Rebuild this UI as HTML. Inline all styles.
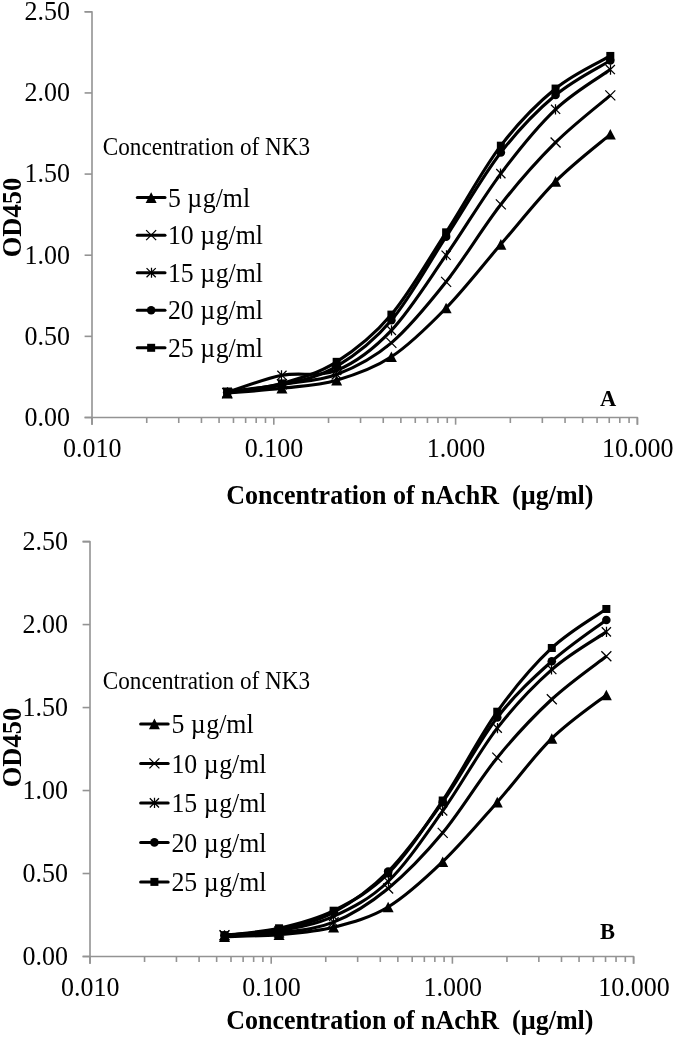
<!DOCTYPE html>
<html><head><meta charset="utf-8"><style>
html,body{margin:0;padding:0;background:#fff;}
body{width:675px;height:1037px;overflow:hidden;font-family:"Liberation Serif",serif;}
svg{display:block;filter:blur(0.4px);}
</style></head><body>
<svg width="675" height="1037" viewBox="0 0 675 1037">
<rect width="675" height="1037" fill="#fff"/>
<g stroke="#939393" stroke-width="1.6" fill="none" stroke-linecap="butt">
<path d="M84.60,11.80 L92.00,11.80 L92.00,424.70" stroke-linejoin="round"/>
<path d="M84.60,417.50 L637.40,417.50 L637.40,424.70" stroke-linejoin="round"/>
<path d="M84.60,417.50 L92.00,417.50"/>
<path d="M84.60,336.36 L92.00,336.36"/>
<path d="M84.60,255.22 L92.00,255.22"/>
<path d="M84.60,174.08 L92.00,174.08"/>
<path d="M84.60,92.94 L92.00,92.94"/>
<path d="M84.60,11.80 L92.00,11.80"/>
<path d="M92.00,417.50 L92.00,424.70"/>
<path d="M146.73,417.50 L146.73,423.00"/>
<path d="M178.74,417.50 L178.74,423.00"/>
<path d="M201.45,417.50 L201.45,423.00"/>
<path d="M219.07,417.50 L219.07,423.00"/>
<path d="M233.47,417.50 L233.47,423.00"/>
<path d="M245.64,417.50 L245.64,423.00"/>
<path d="M256.18,417.50 L256.18,423.00"/>
<path d="M265.48,417.50 L265.48,423.00"/>
<path d="M273.80,417.50 L273.80,424.70"/>
<path d="M328.53,417.50 L328.53,423.00"/>
<path d="M360.54,417.50 L360.54,423.00"/>
<path d="M383.25,417.50 L383.25,423.00"/>
<path d="M400.87,417.50 L400.87,423.00"/>
<path d="M415.27,417.50 L415.27,423.00"/>
<path d="M427.44,417.50 L427.44,423.00"/>
<path d="M437.98,417.50 L437.98,423.00"/>
<path d="M447.28,417.50 L447.28,423.00"/>
<path d="M455.60,417.50 L455.60,424.70"/>
<path d="M510.33,417.50 L510.33,423.00"/>
<path d="M542.34,417.50 L542.34,423.00"/>
<path d="M565.05,417.50 L565.05,423.00"/>
<path d="M582.67,417.50 L582.67,423.00"/>
<path d="M597.07,417.50 L597.07,423.00"/>
<path d="M609.24,417.50 L609.24,423.00"/>
<path d="M619.78,417.50 L619.78,423.00"/>
<path d="M629.08,417.50 L629.08,423.00"/>
<path d="M637.40,417.50 L637.40,424.70"/>
</g>
<g font-family="Liberation Serif" font-size="26" fill="#000" text-anchor="end">
<text transform="translate(70.10,425.80) scale(1,1.06)">0.00</text>
<text transform="translate(70.10,344.66) scale(1,1.06)">0.50</text>
<text transform="translate(70.10,263.52) scale(1,1.06)">1.00</text>
<text transform="translate(70.10,182.38) scale(1,1.06)">1.50</text>
<text transform="translate(70.10,101.24) scale(1,1.06)">2.00</text>
<text transform="translate(70.10,20.10) scale(1,1.06)">2.50</text>
</g>
<g font-family="Liberation Serif" font-size="26" fill="#000" text-anchor="middle">
<text transform="translate(92.30,456.50) scale(1,1.06)">0.010</text>
<text transform="translate(274.10,456.50) scale(1,1.06)">0.100</text>
<text transform="translate(455.90,456.50) scale(1,1.06)">1.000</text>
<text transform="translate(637.70,456.50) scale(1,1.06)">10.000</text>
</g>
<text transform="translate(226.20,503.80) scale(1,1.06)" font-family="Liberation Serif" font-weight="bold" font-size="26" xml:space="preserve">Concentration of nAchR  (µg/ml)</text>
<text transform="translate(21.20,217.50) rotate(-90) scale(1,1.06)" font-family="Liberation Serif" font-weight="bold" font-size="26.5" text-anchor="middle">OD450</text>
<text transform="translate(600.00,406.00) scale(1,1.06)" font-family="Liberation Serif" font-weight="bold" font-size="22.5">A</text>
<text transform="translate(102.80,155.00) scale(1,1.06)" font-family="Liberation Serif" font-size="23.2">Concentration of NK3</text>
<path d="M137.30,197.60 L165.00,197.60" stroke="#000" stroke-width="3.0" stroke-linecap="round" fill="none"/>
<path d="M151.15,192.30 L156.65,202.90 L145.65,202.90 Z" fill="#000"/>
<text transform="translate(167.90,206.80) scale(1,1.06)" font-family="Liberation Serif" font-size="25.8">5 µ<tspan dx="0.7">g/ml</tspan></text>
<path d="M137.30,235.15 L165.00,235.15" stroke="#000" stroke-width="3.0" stroke-linecap="round" fill="none"/>
<path d="M146.15,230.15 L156.15,240.15 M146.15,240.15 L156.15,230.15" stroke="#000" stroke-width="1.25" fill="none"/>
<text transform="translate(167.90,244.35) scale(1,1.06)" font-family="Liberation Serif" font-size="25.8">10 µ<tspan dx="0.7">g/ml</tspan></text>
<path d="M137.30,272.70 L165.00,272.70" stroke="#000" stroke-width="3.0" stroke-linecap="round" fill="none"/>
<path d="M146.55,268.10 L155.75,277.30 M146.55,277.30 L155.75,268.10 M151.50,267.64 L151.50,277.76" stroke="#000" stroke-width="1.25" fill="none"/>
<text transform="translate(167.90,281.90) scale(1,1.06)" font-family="Liberation Serif" font-size="25.8">15 µ<tspan dx="0.7">g/ml</tspan></text>
<path d="M137.30,310.25 L165.00,310.25" stroke="#000" stroke-width="3.0" stroke-linecap="round" fill="none"/>
<circle cx="151.15" cy="310.25" r="4.30" fill="#000"/>
<text transform="translate(167.90,319.45) scale(1,1.06)" font-family="Liberation Serif" font-size="25.8">20 µ<tspan dx="0.7">g/ml</tspan></text>
<path d="M137.30,347.80 L165.00,347.80" stroke="#000" stroke-width="3.0" stroke-linecap="round" fill="none"/>
<rect x="147.15" y="343.80" width="8.00" height="8.00" fill="#000"/>
<text transform="translate(167.90,357.00) scale(1,1.06)" font-family="Liberation Serif" font-size="25.8">25 µ<tspan dx="0.7">g/ml</tspan></text>
<path d="M227.20,393.16 C236.32,392.35 263.69,390.45 281.93,388.29 C300.17,386.13 318.42,385.42 336.66,380.18 C354.90,374.93 373.15,368.84 391.39,356.81 C409.63,344.77 427.88,326.70 446.12,307.96 C464.36,289.22 482.61,265.44 500.85,244.35 C519.09,223.25 537.34,199.72 555.58,181.38 C573.82,163.04 601.19,142.16 610.31,134.32" stroke="#000" stroke-width="3.1" fill="none" stroke-linejoin="round"/>
<path d="M227.20,393.16 C236.32,391.67 263.69,387.34 281.93,384.23 C300.17,381.12 318.42,381.39 336.66,374.50 C354.90,367.60 373.15,358.29 391.39,342.85 C409.63,327.41 427.88,304.90 446.12,281.83 C464.36,258.76 482.61,227.66 500.85,204.43 C519.09,181.19 537.34,160.61 555.58,142.44 C573.82,124.26 601.19,103.22 610.31,95.37" stroke="#000" stroke-width="3.1" fill="none" stroke-linejoin="round"/>
<path d="M227.20,392.35 C236.32,389.51 263.69,378.96 281.93,375.31 C300.17,371.66 318.42,377.93 336.66,370.44 C354.90,362.95 373.15,349.56 391.39,330.36 C409.63,311.15 427.88,281.35 446.12,255.22 C464.36,229.09 482.61,197.91 500.85,173.59 C519.09,149.28 537.34,126.67 555.58,109.33 C573.82,91.99 601.19,76.20 610.31,69.57" stroke="#000" stroke-width="3.1" fill="none" stroke-linejoin="round"/>
<path d="M227.20,392.35 C236.32,391.13 263.69,389.37 281.93,385.04 C300.17,380.72 318.42,377.17 336.66,366.38 C354.90,355.59 373.15,341.90 391.39,320.29 C409.63,298.68 427.88,264.69 446.12,236.72 C464.36,208.75 482.61,176.11 500.85,152.50 C519.09,128.89 537.34,110.39 555.58,95.05 C573.82,79.71 601.19,66.24 610.31,60.48" stroke="#000" stroke-width="3.1" fill="none" stroke-linejoin="round"/>
<path d="M227.20,391.54 C236.32,390.18 263.69,388.37 281.93,383.42 C300.17,378.47 318.42,373.31 336.66,361.84 C354.90,350.37 373.15,336.20 391.39,314.61 C409.63,293.03 427.88,260.49 446.12,232.34 C464.36,204.18 482.61,169.64 500.85,145.68 C519.09,121.72 537.34,103.52 555.58,88.56 C573.82,73.60 601.19,61.38 610.31,55.94" stroke="#000" stroke-width="3.1" fill="none" stroke-linejoin="round"/>
<path d="M227.20,387.86 L232.70,398.46 L221.70,398.46 Z" fill="#000"/>
<path d="M281.93,382.99 L287.43,393.59 L276.43,393.59 Z" fill="#000"/>
<path d="M336.66,374.88 L342.16,385.48 L331.16,385.48 Z" fill="#000"/>
<path d="M391.39,351.51 L396.89,362.11 L385.89,362.11 Z" fill="#000"/>
<path d="M446.12,302.66 L451.62,313.26 L440.62,313.26 Z" fill="#000"/>
<path d="M500.85,239.05 L506.35,249.65 L495.35,249.65 Z" fill="#000"/>
<path d="M555.58,176.08 L561.08,186.68 L550.08,186.68 Z" fill="#000"/>
<path d="M610.31,129.02 L615.81,139.62 L604.81,139.62 Z" fill="#000"/>
<path d="M222.20,388.16 L232.20,398.16 M222.20,398.16 L232.20,388.16" stroke="#000" stroke-width="1.25" fill="none"/>
<path d="M276.93,379.23 L286.93,389.23 M276.93,389.23 L286.93,379.23" stroke="#000" stroke-width="1.25" fill="none"/>
<path d="M331.66,369.50 L341.66,379.50 M331.66,379.50 L341.66,369.50" stroke="#000" stroke-width="1.25" fill="none"/>
<path d="M386.39,337.85 L396.39,347.85 M386.39,347.85 L396.39,337.85" stroke="#000" stroke-width="1.25" fill="none"/>
<path d="M441.12,276.83 L451.12,286.83 M441.12,286.83 L451.12,276.83" stroke="#000" stroke-width="1.25" fill="none"/>
<path d="M495.85,199.43 L505.85,209.43 M495.85,209.43 L505.85,199.43" stroke="#000" stroke-width="1.25" fill="none"/>
<path d="M550.58,137.44 L560.58,147.44 M550.58,147.44 L560.58,137.44" stroke="#000" stroke-width="1.25" fill="none"/>
<path d="M605.31,90.37 L615.31,100.37 M605.31,100.37 L615.31,90.37" stroke="#000" stroke-width="1.25" fill="none"/>
<path d="M222.60,387.75 L231.80,396.95 M222.60,396.95 L231.80,387.75 M227.50,387.29 L227.50,397.41" stroke="#000" stroke-width="1.25" fill="none"/>
<path d="M277.33,370.71 L286.53,379.91 M277.33,379.91 L286.53,370.71 M281.50,370.25 L281.50,380.37" stroke="#000" stroke-width="1.25" fill="none"/>
<path d="M332.06,365.84 L341.26,375.04 M332.06,375.04 L341.26,365.84 M336.50,365.38 L336.50,375.50" stroke="#000" stroke-width="1.25" fill="none"/>
<path d="M386.79,325.76 L395.99,334.96 M386.79,334.96 L395.99,325.76 M391.50,325.30 L391.50,335.42" stroke="#000" stroke-width="1.25" fill="none"/>
<path d="M441.52,250.62 L450.72,259.82 M441.52,259.82 L450.72,250.62 M446.50,250.16 L446.50,260.28" stroke="#000" stroke-width="1.25" fill="none"/>
<path d="M496.25,168.99 L505.45,178.19 M496.25,178.19 L505.45,168.99 M500.50,168.53 L500.50,178.65" stroke="#000" stroke-width="1.25" fill="none"/>
<path d="M550.98,104.73 L560.18,113.93 M550.98,113.93 L560.18,104.73 M555.50,104.27 L555.50,114.39" stroke="#000" stroke-width="1.25" fill="none"/>
<path d="M605.71,64.97 L614.91,74.17 M605.71,74.17 L614.91,64.97 M610.50,64.51 L610.50,74.63" stroke="#000" stroke-width="1.25" fill="none"/>
<circle cx="227.20" cy="392.35" r="4.30" fill="#000"/>
<circle cx="281.93" cy="385.04" r="4.30" fill="#000"/>
<circle cx="336.66" cy="366.38" r="4.30" fill="#000"/>
<circle cx="391.39" cy="320.29" r="4.30" fill="#000"/>
<circle cx="446.12" cy="236.72" r="4.30" fill="#000"/>
<circle cx="500.85" cy="152.50" r="4.30" fill="#000"/>
<circle cx="555.58" cy="95.05" r="4.30" fill="#000"/>
<circle cx="610.31" cy="60.48" r="4.30" fill="#000"/>
<rect x="223.20" y="387.54" width="8.00" height="8.00" fill="#000"/>
<rect x="277.93" y="379.42" width="8.00" height="8.00" fill="#000"/>
<rect x="332.66" y="357.84" width="8.00" height="8.00" fill="#000"/>
<rect x="387.39" y="310.61" width="8.00" height="8.00" fill="#000"/>
<rect x="442.12" y="228.34" width="8.00" height="8.00" fill="#000"/>
<rect x="496.85" y="141.68" width="8.00" height="8.00" fill="#000"/>
<rect x="551.58" y="84.56" width="8.00" height="8.00" fill="#000"/>
<rect x="606.31" y="51.94" width="8.00" height="8.00" fill="#000"/>
<g stroke="#939393" stroke-width="1.6" fill="none" stroke-linecap="butt">
<path d="M82.60,541.60 L90.00,541.60 L90.00,963.70" stroke-linejoin="round"/>
<path d="M82.60,956.50 L633.60,956.50 L633.60,963.70" stroke-linejoin="round"/>
<path d="M82.60,956.50 L90.00,956.50"/>
<path d="M82.60,873.52 L90.00,873.52"/>
<path d="M82.60,790.54 L90.00,790.54"/>
<path d="M82.60,707.56 L90.00,707.56"/>
<path d="M82.60,624.58 L90.00,624.58"/>
<path d="M82.60,541.60 L90.00,541.60"/>
<path d="M90.00,956.50 L90.00,963.70"/>
<path d="M144.55,956.50 L144.55,962.00"/>
<path d="M176.45,956.50 L176.45,962.00"/>
<path d="M199.09,956.50 L199.09,962.00"/>
<path d="M216.65,956.50 L216.65,962.00"/>
<path d="M231.00,956.50 L231.00,962.00"/>
<path d="M243.13,956.50 L243.13,962.00"/>
<path d="M253.64,956.50 L253.64,962.00"/>
<path d="M262.91,956.50 L262.91,962.00"/>
<path d="M271.20,956.50 L271.20,963.70"/>
<path d="M325.75,956.50 L325.75,962.00"/>
<path d="M357.65,956.50 L357.65,962.00"/>
<path d="M380.29,956.50 L380.29,962.00"/>
<path d="M397.85,956.50 L397.85,962.00"/>
<path d="M412.20,956.50 L412.20,962.00"/>
<path d="M424.33,956.50 L424.33,962.00"/>
<path d="M434.84,956.50 L434.84,962.00"/>
<path d="M444.11,956.50 L444.11,962.00"/>
<path d="M452.40,956.50 L452.40,963.70"/>
<path d="M506.95,956.50 L506.95,962.00"/>
<path d="M538.85,956.50 L538.85,962.00"/>
<path d="M561.49,956.50 L561.49,962.00"/>
<path d="M579.05,956.50 L579.05,962.00"/>
<path d="M593.40,956.50 L593.40,962.00"/>
<path d="M605.53,956.50 L605.53,962.00"/>
<path d="M616.04,956.50 L616.04,962.00"/>
<path d="M625.31,956.50 L625.31,962.00"/>
<path d="M633.60,956.50 L633.60,963.70"/>
</g>
<g font-family="Liberation Serif" font-size="26" fill="#000" text-anchor="end">
<text transform="translate(68.00,964.80) scale(1,1.06)">0.00</text>
<text transform="translate(68.00,881.82) scale(1,1.06)">0.50</text>
<text transform="translate(68.00,798.84) scale(1,1.06)">1.00</text>
<text transform="translate(68.00,715.86) scale(1,1.06)">1.50</text>
<text transform="translate(68.00,632.88) scale(1,1.06)">2.00</text>
<text transform="translate(68.00,549.90) scale(1,1.06)">2.50</text>
</g>
<g font-family="Liberation Serif" font-size="26" fill="#000" text-anchor="middle">
<text transform="translate(90.30,995.70) scale(1,1.06)">0.010</text>
<text transform="translate(271.50,995.70) scale(1,1.06)">0.100</text>
<text transform="translate(452.70,995.70) scale(1,1.06)">1.000</text>
<text transform="translate(633.90,995.70) scale(1,1.06)">10.000</text>
</g>
<text transform="translate(226.20,1028.90) scale(1,1.06)" font-family="Liberation Serif" font-weight="bold" font-size="26" xml:space="preserve">Concentration of nAchR  (µg/ml)</text>
<text transform="translate(20.80,747.50) rotate(-90) scale(1,1.06)" font-family="Liberation Serif" font-weight="bold" font-size="26.5" text-anchor="middle">OD450</text>
<text transform="translate(600.00,938.80) scale(1,1.06)" font-family="Liberation Serif" font-weight="bold" font-size="22.5">B</text>
<text transform="translate(102.80,688.50) scale(1,1.06)" font-family="Liberation Serif" font-size="23.2">Concentration of NK3</text>
<path d="M140.60,723.90 L168.20,723.90" stroke="#000" stroke-width="3.0" stroke-linecap="round" fill="none"/>
<path d="M154.40,718.60 L159.90,729.20 L148.90,729.20 Z" fill="#000"/>
<text transform="translate(171.40,733.10) scale(1,1.06)" font-family="Liberation Serif" font-size="25.8">5 µ<tspan dx="0.7">g/ml</tspan></text>
<path d="M140.60,763.40 L168.20,763.40" stroke="#000" stroke-width="3.0" stroke-linecap="round" fill="none"/>
<path d="M149.40,758.40 L159.40,768.40 M149.40,768.40 L159.40,758.40" stroke="#000" stroke-width="1.25" fill="none"/>
<text transform="translate(171.40,772.60) scale(1,1.06)" font-family="Liberation Serif" font-size="25.8">10 µ<tspan dx="0.7">g/ml</tspan></text>
<path d="M140.60,802.90 L168.20,802.90" stroke="#000" stroke-width="3.0" stroke-linecap="round" fill="none"/>
<path d="M149.80,798.30 L159.00,807.50 M149.80,807.50 L159.00,798.30 M154.50,797.84 L154.50,807.96" stroke="#000" stroke-width="1.25" fill="none"/>
<text transform="translate(171.40,812.10) scale(1,1.06)" font-family="Liberation Serif" font-size="25.8">15 µ<tspan dx="0.7">g/ml</tspan></text>
<path d="M140.60,842.40 L168.20,842.40" stroke="#000" stroke-width="3.0" stroke-linecap="round" fill="none"/>
<circle cx="154.40" cy="842.40" r="4.30" fill="#000"/>
<text transform="translate(171.40,851.60) scale(1,1.06)" font-family="Liberation Serif" font-size="25.8">20 µ<tspan dx="0.7">g/ml</tspan></text>
<path d="M140.60,881.90 L168.20,881.90" stroke="#000" stroke-width="3.0" stroke-linecap="round" fill="none"/>
<rect x="150.40" y="877.90" width="8.00" height="8.00" fill="#000"/>
<text transform="translate(171.40,891.10) scale(1,1.06)" font-family="Liberation Serif" font-size="25.8">25 µ<tspan dx="0.7">g/ml</tspan></text>
<path d="M224.50,936.58 C233.59,936.25 260.87,936.14 279.05,934.59 C297.23,933.04 315.42,931.88 333.60,927.29 C351.78,922.70 369.97,917.97 388.15,907.04 C406.33,896.12 424.52,879.22 442.70,861.74 C460.88,844.26 479.07,822.71 497.25,802.16 C515.43,781.61 533.62,756.30 551.80,738.43 C569.98,720.56 597.26,702.19 606.35,694.95" stroke="#000" stroke-width="3.1" fill="none" stroke-linejoin="round"/>
<path d="M224.50,935.26 C233.59,934.79 260.87,934.62 279.05,932.44 C297.23,930.25 315.42,929.48 333.60,922.15 C351.78,914.82 369.97,903.34 388.15,888.46 C406.33,873.58 424.52,854.66 442.70,832.86 C460.88,811.06 479.07,779.95 497.25,757.68 C515.43,735.41 533.62,716.16 551.80,699.26 C569.98,682.36 597.26,663.44 606.35,656.28" stroke="#000" stroke-width="3.1" fill="none" stroke-linejoin="round"/>
<path d="M224.50,935.26 C233.59,934.51 260.87,933.93 279.05,930.78 C297.23,927.62 315.42,924.55 333.60,916.34 C351.78,908.12 369.97,899.05 388.15,881.49 C406.33,863.92 424.52,836.51 442.70,810.95 C460.88,785.40 479.07,751.71 497.25,728.14 C515.43,704.57 533.62,685.60 551.80,669.56 C569.98,653.51 597.26,638.16 606.35,631.88" stroke="#000" stroke-width="3.1" fill="none" stroke-linejoin="round"/>
<path d="M224.50,935.26 C233.59,934.29 260.87,933.27 279.05,929.45 C297.23,925.63 315.42,922.01 333.60,912.35 C351.78,902.70 369.97,889.89 388.15,871.53 C406.33,853.16 424.52,827.83 442.70,802.16 C460.88,776.49 479.07,741.00 497.25,717.52 C515.43,694.03 533.62,677.52 551.80,661.26 C569.98,644.99 597.26,626.82 606.35,619.93" stroke="#000" stroke-width="3.1" fill="none" stroke-linejoin="round"/>
<path d="M224.50,935.26 C233.59,934.10 260.87,932.38 279.05,928.29 C297.23,924.19 315.42,919.82 333.60,910.70 C351.78,901.57 369.97,891.89 388.15,873.52 C406.33,855.15 424.52,827.47 442.70,800.50 C460.88,773.53 479.07,737.13 497.25,711.71 C515.43,686.29 533.62,665.10 551.80,647.98 C569.98,630.86 597.26,615.48 606.35,608.98" stroke="#000" stroke-width="3.1" fill="none" stroke-linejoin="round"/>
<path d="M224.50,931.28 L230.00,941.88 L219.00,941.88 Z" fill="#000"/>
<path d="M279.05,929.29 L284.55,939.89 L273.55,939.89 Z" fill="#000"/>
<path d="M333.60,921.99 L339.10,932.59 L328.10,932.59 Z" fill="#000"/>
<path d="M388.15,901.74 L393.65,912.34 L382.65,912.34 Z" fill="#000"/>
<path d="M442.70,856.44 L448.20,867.04 L437.20,867.04 Z" fill="#000"/>
<path d="M497.25,796.86 L502.75,807.46 L491.75,807.46 Z" fill="#000"/>
<path d="M551.80,733.13 L557.30,743.73 L546.30,743.73 Z" fill="#000"/>
<path d="M606.35,689.65 L611.85,700.25 L600.85,700.25 Z" fill="#000"/>
<path d="M219.50,930.26 L229.50,940.26 M219.50,940.26 L229.50,930.26" stroke="#000" stroke-width="1.25" fill="none"/>
<path d="M274.05,927.44 L284.05,937.44 M274.05,937.44 L284.05,927.44" stroke="#000" stroke-width="1.25" fill="none"/>
<path d="M328.60,917.15 L338.60,927.15 M328.60,927.15 L338.60,917.15" stroke="#000" stroke-width="1.25" fill="none"/>
<path d="M383.15,883.46 L393.15,893.46 M383.15,893.46 L393.15,883.46" stroke="#000" stroke-width="1.25" fill="none"/>
<path d="M437.70,827.86 L447.70,837.86 M437.70,837.86 L447.70,827.86" stroke="#000" stroke-width="1.25" fill="none"/>
<path d="M492.25,752.68 L502.25,762.68 M492.25,762.68 L502.25,752.68" stroke="#000" stroke-width="1.25" fill="none"/>
<path d="M546.80,694.26 L556.80,704.26 M546.80,704.26 L556.80,694.26" stroke="#000" stroke-width="1.25" fill="none"/>
<path d="M601.35,651.28 L611.35,661.28 M601.35,661.28 L611.35,651.28" stroke="#000" stroke-width="1.25" fill="none"/>
<path d="M219.90,930.66 L229.10,939.86 M219.90,939.86 L229.10,930.66 M224.50,930.20 L224.50,940.32" stroke="#000" stroke-width="1.25" fill="none"/>
<path d="M274.45,926.18 L283.65,935.38 M274.45,935.38 L283.65,926.18 M279.50,925.72 L279.50,935.84" stroke="#000" stroke-width="1.25" fill="none"/>
<path d="M329.00,911.74 L338.20,920.94 M329.00,920.94 L338.20,911.74 M333.50,911.28 L333.50,921.40" stroke="#000" stroke-width="1.25" fill="none"/>
<path d="M383.55,876.89 L392.75,886.09 M383.55,886.09 L392.75,876.89 M388.50,876.43 L388.50,886.55" stroke="#000" stroke-width="1.25" fill="none"/>
<path d="M438.10,806.35 L447.30,815.55 M438.10,815.55 L447.30,806.35 M442.50,805.89 L442.50,816.01" stroke="#000" stroke-width="1.25" fill="none"/>
<path d="M492.65,723.54 L501.85,732.74 M492.65,732.74 L501.85,723.54 M497.50,723.08 L497.50,733.20" stroke="#000" stroke-width="1.25" fill="none"/>
<path d="M547.20,664.96 L556.40,674.16 M547.20,674.16 L556.40,664.96 M551.50,664.50 L551.50,674.62" stroke="#000" stroke-width="1.25" fill="none"/>
<path d="M601.75,627.28 L610.95,636.48 M601.75,636.48 L610.95,627.28 M606.50,626.82 L606.50,636.94" stroke="#000" stroke-width="1.25" fill="none"/>
<circle cx="224.50" cy="935.26" r="4.30" fill="#000"/>
<circle cx="279.05" cy="929.45" r="4.30" fill="#000"/>
<circle cx="333.60" cy="912.35" r="4.30" fill="#000"/>
<circle cx="388.15" cy="871.53" r="4.30" fill="#000"/>
<circle cx="442.70" cy="802.16" r="4.30" fill="#000"/>
<circle cx="497.25" cy="717.52" r="4.30" fill="#000"/>
<circle cx="551.80" cy="661.26" r="4.30" fill="#000"/>
<circle cx="606.35" cy="619.93" r="4.30" fill="#000"/>
<rect x="220.50" y="931.26" width="8.00" height="8.00" fill="#000"/>
<rect x="275.05" y="924.29" width="8.00" height="8.00" fill="#000"/>
<rect x="329.60" y="906.70" width="8.00" height="8.00" fill="#000"/>
<rect x="384.15" y="869.52" width="8.00" height="8.00" fill="#000"/>
<rect x="438.70" y="796.50" width="8.00" height="8.00" fill="#000"/>
<rect x="493.25" y="707.71" width="8.00" height="8.00" fill="#000"/>
<rect x="547.80" y="643.98" width="8.00" height="8.00" fill="#000"/>
<rect x="602.35" y="604.98" width="8.00" height="8.00" fill="#000"/>
</svg>
</body></html>
